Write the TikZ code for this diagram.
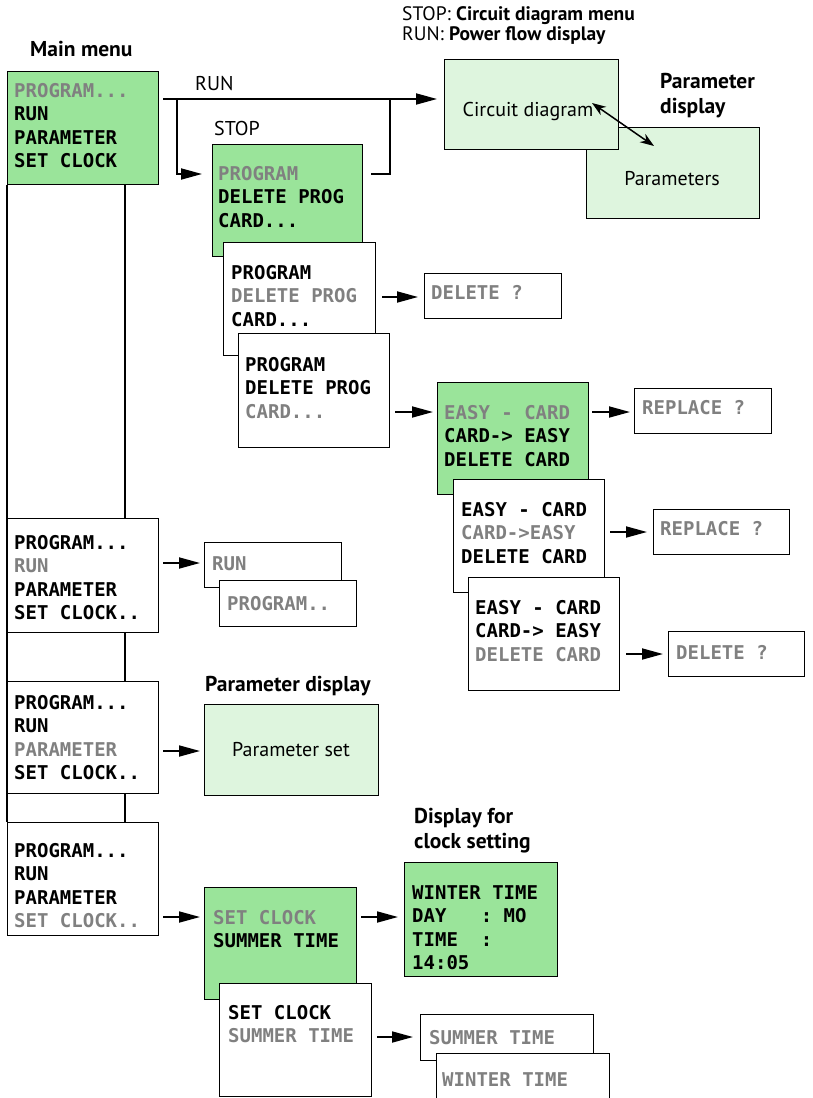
\documentclass[tikz,border=0pt]{standalone}
\usepackage{fontspec}
\setmainfont{PT Sans}
\newfontfamily\lcdfont{DejaVu Sans Mono}
\usetikzlibrary{arrows.meta}
\definecolor{lcdgreen}{RGB}{154,228,154}
\definecolor{palegreen}{RGB}{222,245,222}
\definecolor{lcdgray}{RGB}{128,128,128}
\newcommand\gr[1]{\textcolor{lcdgray}{#1}}
\newcommand\mkbox[6]{\node[#1, minimum width={#5-#3}, minimum height={#6-#4}, anchor=north west, inner sep=0pt] (#2) at (#3,#4) {};}
\tikzset{
  box/.style={draw, line width=1.3pt, fill=white},
  lcd/.style={box, fill=lcdgreen},
  pale/.style={box, fill=palegreen},
  lcdtext/.style={inner sep=0pt, align=left, anchor=north west, font=\lcdfont\bfseries\fontsize{19}{23.5}\selectfont},
  lbl/.style={inner sep=0pt, anchor=base west, font=\fontsize{20}{24}\selectfont},
  toplbl/.style={inner sep=0pt, anchor=base west, font=\fontsize{19.5}{22}\selectfont},
  blbl/.style={lbl, font=\fontsize{21.5}{25}\selectfont\bfseries},
  arr/.style={line width=1.8pt, -{Triangle[length=21pt,width=11pt]}},
  dbl/.style={line width=1.5pt, {Stealth[length=14pt,width=10pt]}-{Stealth[length=14pt,width=10pt]}},
  wire/.style={line width=1.8pt},
}
\begin{document}
\begin{tikzpicture}[x=1pt,y=-1pt]
\useasboundingbox (0,0) rectangle (812,1098);

% ---- main column boxes
\mkbox{lcd}{m1}{7}{71}{158}{184}
\mkbox{box}{m2}{7}{518}{158}{632}
\mkbox{box}{m3}{7}{681}{158}{793}
\mkbox{box}{m4}{7}{822}{158}{935}
\node[lcdtext] (m1t) at (14,83) {\gr{PROGRAM...}\\RUN\\PARAMETER\\SET CLOCK};
\node[lcdtext] (m2t) at (14,535) {PROGRAM...\\\gr{RUN}\\PARAMETER\\SET CLOCK..};
\node[lcdtext] (m3t) at (14,695) {PROGRAM...\\RUN\\\gr{PARAMETER}\\SET CLOCK..};
\node[lcdtext] (m4t) at (14,843) {PROGRAM...\\RUN\\PARAMETER\\\gr{SET CLOCK..}};

% ---- circuit diagram / parameters
\mkbox{pale}{pa}{586}{127}{759}{218}
\mkbox{pale}{cd}{444}{59}{618}{149}
\node[lbl, anchor=base] (cdt) at (528,116) {Circuit diagram};
\node[lbl, anchor=base] (pat) at (672,185) {Parameters};

% ---- program submenu
\mkbox{lcd}{p1}{212}{144}{362}{256}
\node[lcdtext] (p1t) at (218,166) {\gr{PROGRAM}\\DELETE PROG\\CARD...};
\mkbox{box}{p2}{223}{242}{375}{355}
\node[lcdtext] (p2t) at (231,265) {PROGRAM\\\gr{DELETE PROG}\\CARD...};
\mkbox{box}{p3}{238}{333}{389}{447}
\node[lcdtext] (p3t) at (245,357) {PROGRAM\\DELETE PROG\\\gr{CARD...}};
\mkbox{box}{d1}{424}{273}{561}{318}
\node[lcdtext] (d1t) at (431,285) {\gr{DELETE ?}};

% ---- card submenu
\mkbox{lcd}{c1}{437}{382}{588}{494}
\node[lcdtext] (c1t) at (444,405) {\gr{EASY - CARD}\\CARD-> EASY\\DELETE CARD};
\mkbox{box}{c2}{453}{479}{604}{592}
\node[lcdtext] (c2t) at (461,502) {EASY - CARD\\\gr{CARD->EASY}\\DELETE CARD};
\mkbox{box}{c3}{468}{577}{619}{690}
\node[lcdtext] (c3t) at (475,600) {EASY - CARD\\CARD-> EASY\\\gr{DELETE CARD}};
\mkbox{box}{r1}{634}{388}{771}{433}
\node[lcdtext] (r1t) at (642,400) {\gr{REPLACE ?}};
\mkbox{box}{r2}{653}{509}{789}{554}
\node[lcdtext] (r2t) at (660,521) {\gr{REPLACE ?}};
\mkbox{box}{d2}{668}{631}{804}{676}
\node[lcdtext] (d2t) at (676,645) {\gr{DELETE ?}};

% ---- run / program
\mkbox{box}{run1}{204}{542}{341}{587}
\node[lcdtext] (run1t) at (212,556) {\gr{RUN}};
\mkbox{box}{run2}{219}{580}{356}{626}
\node[lcdtext] (run2t) at (227,596) {\gr{PROGRAM..}};

% ---- parameter set
\mkbox{pale}{ps}{204}{704}{378}{795}
\node[lbl, anchor=base] (pst) at (291,756) {Parameter set};

% ---- clock
\mkbox{lcd}{s1}{204}{887}{356}{999}
\node[lcdtext] (s1t) at (213,910) {\gr{SET CLOCK}\\SUMMER TIME};
\mkbox{lcd}{clk}{404}{862}{557}{976}
\node[lcdtext] (clkt) at (412,885) {WINTER TIME\\DAY\ \ \ :\ MO\\TIME\ \ :\\14:05};
\mkbox{box}{s2}{219}{983}{371}{1096}
\node[lcdtext] (s2t) at (228,1005) {SET CLOCK\\\gr{SUMMER TIME}};
\mkbox{box}{st}{420}{1014}{593}{1060}
\node[lcdtext] (stt) at (429,1030) {\gr{SUMMER TIME}};
\mkbox{box}{wt}{436}{1053}{609}{1115}
\node[lcdtext] (wtt) at (442,1072) {\gr{WINTER TIME}};

% ---- labels
\node[blbl] (lmain) at (30,56) {Main menu};
\node[lbl] (lrun) at (195,90) {RUN};
\node[lbl] (lstop) at (214,135) {STOP};
\node[toplbl] (ltop1) at (402,20) {STOP: \textbf{Circuit diagram menu}};
\node[toplbl] (ltop2) at (402,40) {RUN: \textbf{Power flow display}};
\node[blbl] (lpd1) at (660,88) {Parameter};
\node[blbl] (lpd2) at (660,113) {display};
\node[blbl] (lpd3) at (205,691) {Parameter display};
\node[blbl] (lcs1) at (414,823) {Display for};
\node[blbl] (lcs2) at (414,848) {clock setting};

% ---- main column wires
\coordinate (tapx) at (125,0);
\draw[wire] (m1.south west) -- (m4.north west);
\draw[wire] (m1.south -| tapx) -- (m2.north -| tapx);
\draw[wire] (m2.south -| tapx) -- (m3.north -| tapx);
\draw[wire] (m3.south -| tapx) -- (m4.north -| tapx);

% ---- RUN / STOP branch
\coordinate (runs) at (163,99);
\coordinate (stopx) at (177,99);
\coordinate (p1row) at (0,174);
\coordinate (retx) at (390,99);
\draw[arr, shorten >=7pt] (runs) -- (cd.west |- runs);
\draw[arr, shorten >=10pt] (stopx) |- (p1.west |- p1row);
\draw[wire] ([xshift=8pt]p1.east |- p1row) -| (retx);

% ---- double arrow
\coordinate (da1) at (592,103);
\coordinate (da2) at (654,146);
\draw[dbl] (da1) -- (da2);

% ---- arrows
\draw[arr, shorten <=4pt, shorten >=4pt] (m2.east |- 0,563) -- (run1.west |- 0,563);
\draw[arr, shorten <=4pt, shorten >=4pt] (m3.east |- 0,751) -- (ps.west |- 0,751);
\draw[arr, shorten <=4pt, shorten >=4pt] (m4.east |- 0,917) -- (s1.west |- 0,917);
\draw[arr, shorten <=6pt, shorten >=6pt] (p2.east |- 0,297) -- (d1.west |- 0,297);
\draw[arr, shorten <=5pt, shorten >=4pt] (p3.east |- 0,412) -- (c1.west |- 0,412);
\draw[arr, shorten <=3pt, shorten >=4pt] (c1.east |- 0,412) -- (r1.west |- 0,412);
\draw[arr, shorten <=5pt, shorten >=6pt] (c2.east |- 0,532) -- (r2.west |- 0,532);
\draw[arr, shorten <=6pt, shorten >=5pt] (c3.east |- 0,654) -- (d2.west |- 0,654);
\draw[arr, shorten <=4pt, shorten >=6pt] (s1.east |- 0,917) -- (clk.west |- 0,917);
\draw[arr, shorten <=5pt, shorten >=7pt] (s2.east |- 0,1037) -- (st.west |- 0,1037);
\end{tikzpicture}
\end{document}
